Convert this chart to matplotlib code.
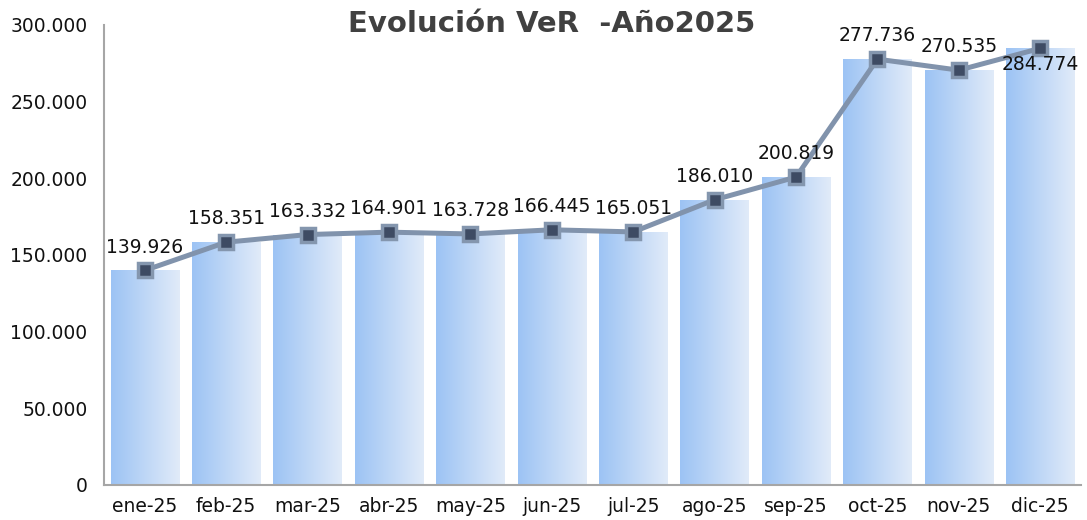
import numpy as np
import matplotlib
matplotlib.use("Agg")
import matplotlib.pyplot as plt
from matplotlib.colors import LinearSegmentedColormap
from matplotlib.ticker import FuncFormatter

# datos
meses = ["ene-25", "feb-25", "mar-25", "abr-25", "may-25", "jun-25",
         "jul-25", "ago-25", "sep-25", "oct-25", "nov-25", "dic-25"]
ver = [139926, 158351, 163332, 164901, 163728, 166445,
       165051, 186010, 200819, 277736, 270535, 284774]

plt.rcParams['font.family'] = ['DejaVu Sans']

fig = plt.figure(figsize=(10.87, 5.2), dpi=100)
ax = fig.add_axes([104 / 1087, 1 - 485 / 520, (1081 - 104) / 1087, (485 - 25) / 520])

x = np.arange(len(meses))
bars = ax.bar(x, ver, width=0.84, color='none', edgecolor='none', zorder=1)

# degradado horizontal en cada barra
cmap = LinearSegmentedColormap.from_list('grad', ['#9cc3f4', '#e1ebf9'])
grad = np.linspace(0, 1, 256).reshape(1, -1)
for b in bars:
    x0 = b.get_x()
    w = b.get_width()
    h = b.get_height()
    im = ax.imshow(grad, cmap=cmap, aspect='auto', extent=(x0, x0 + w, 0, h),
                   zorder=1, interpolation='bicubic')
    im.set_clip_path(b)

ax.plot(x, ver, color='#8193ac', linewidth=3.6, marker='s', markersize=10,
        markerfacecolor='#3e4b63', markeredgecolor='#8496ae', markeredgewidth=2.5,
        zorder=3)

# etiquetas de datos
for i, v in enumerate(ver):
    txt = f"{v:,}".replace(",", ".")
    if i == len(ver) - 1:
        ax.annotate(txt, (i, v), xytext=(0, -5), textcoords='offset points',
                    ha='center', va='top', fontsize=13.5, color='#111111', zorder=4)
    else:
        ax.annotate(txt, (i, v), xytext=(0, 10), textcoords='offset points',
                    ha='center', va='bottom', fontsize=13.5, color='#111111', zorder=4)

ax.set_xlim(-0.5, len(meses) - 0.5)
ax.set_ylim(0, 300000)
ax.set_yticks(np.arange(0, 300001, 50000))
ax.yaxis.set_major_formatter(FuncFormatter(lambda v, p: f"{int(v):,}".replace(",", ".")))
ax.set_xticks(x)
ax.set_xticklabels(meses)
ax.tick_params(axis='both', length=0, labelsize=13.5, colors='#111111')
ax.tick_params(axis='y', pad=12)
ax.tick_params(axis='x', pad=9)

for s in ['top', 'right']:
    ax.spines[s].set_visible(False)
for s in ['left', 'bottom']:
    ax.spines[s].set_color('#a6a6a6')
    ax.spines[s].set_linewidth(1.5)

fig.text(552 / 1087, 1 - 24 / 520, "Evolución VeR  -Año2025", ha='center', va='center',
         fontsize=21, fontweight='bold', color='#404040')

fig.savefig("out.png", dpi=100)
